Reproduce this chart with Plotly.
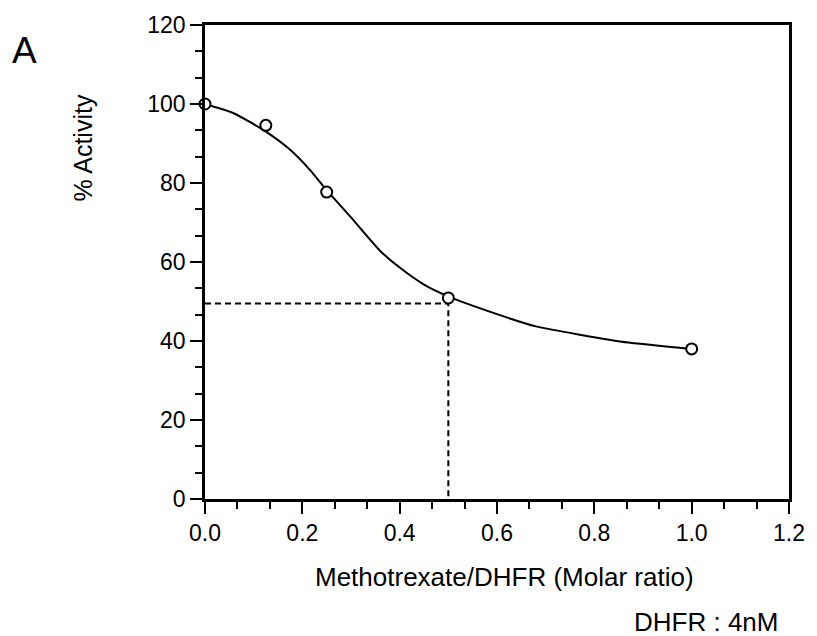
import plotly.graph_objects as go

# Measured data points
ratio = [0.0, 0.125, 0.25, 0.5, 1.0]
activity = [100.0, 94.6, 77.7, 50.9, 38.0]

# Fitted curve
curve_x = [0.0, 0.06, 0.125, 0.175, 0.215, 0.25, 0.30, 0.36, 0.40, 0.45, 0.50, 0.60, 0.68, 0.77, 0.87, 1.0]
curve_y = [100.0, 97.6, 93.0, 88.4, 83.4, 78.2, 71.3, 62.8, 58.6, 54.3, 51.3, 46.8, 43.7, 41.6, 39.6, 38.0]

# 50% reference guide
guide_x = [0.0, 0.5, 0.5]
guide_y = [49.5, 49.5, 0.0]

x_ticks = [0.0, 0.2, 0.4, 0.6, 0.8, 1.0, 1.2]
y_ticks = [0, 20, 40, 60, 80, 100, 120]

FONT = "Liberation Sans, Arial, Helvetica, sans-serif"

fig = go.Figure()
fig.add_trace(go.Scatter(x=guide_x, y=guide_y, mode="lines",
                         line=dict(color="black", width=2, dash="6px,4px"),
                         hoverinfo="skip", showlegend=False))
fig.add_trace(go.Scatter(x=curve_x, y=curve_y, mode="lines",
                         line=dict(color="black", width=2, shape="spline", smoothing=0.6),
                         showlegend=False))
fig.add_trace(go.Scatter(x=ratio, y=activity, mode="markers",
                         marker=dict(symbol="circle", size=11, color="white",
                                     line=dict(color="black", width=2)),
                         cliponaxis=False, showlegend=False))

axis_common = dict(showgrid=False, zeroline=False, showline=True, linecolor="black",
                   linewidth=2.5, mirror=True, ticks="outside", ticklen=12, tickwidth=2,
                   tickcolor="black", tickfont=dict(family=FONT, size=23, color="black"))

fig.update_xaxes(range=[0, 1.2], tickvals=x_ticks, tickformat=".1f",
                 minor=dict(ticks="outside", ticklen=7, tickwidth=2, tickcolor="black",
                            dtick=0.2 / 3, tick0=0, showgrid=False),
                 **axis_common)
fig.update_yaxes(range=[0, 120], tickvals=y_ticks,
                 minor=dict(ticks="outside", ticklen=7, tickwidth=2, tickcolor="black",
                            dtick=20 / 3, tick0=0, showgrid=False),
                 **axis_common)

fig.add_annotation(text="A", x=24, y=47, showarrow=False,
                   font=dict(family=FONT, size=37, color="black"))
fig.add_annotation(text="% Activity", x=82, y=145, textangle=-90, showarrow=False,
                   font=dict(family=FONT, size=25, color="black"))
fig.add_annotation(text="Methotrexate/DHFR (Molar ratio)", x=506, y=578, showarrow=False,
                   font=dict(family=FONT, size=26, color="black"))
fig.add_annotation(text="DHFR : 4nM", x=783, y=623, xanchor="right", showarrow=False,
                   font=dict(family=FONT, size=26, color="black"))

# convert pixel positions of annotations to paper coordinates
W, H = 817, 636
ml, mr, mt, mb = 205, 25, 21, 137
pw, ph = W - ml - mr, H - mt - mb
for ann in fig.layout.annotations:
    px, py = ann.x, ann.y
    ann.x = (px - ml) / pw
    ann.y = 1 - (py - mt) / ph
    ann.xref = "paper"
    ann.yref = "paper"
    ann.yanchor = "middle"
    if ann.xanchor is None:
        ann.xanchor = "center"

fig.update_layout(width=W, height=H, margin=dict(l=ml, r=mr, t=mt, b=mb),
                  plot_bgcolor="white", paper_bgcolor="white",
                  font=dict(family=FONT, color="black"))

fig.write_html("out.html")
